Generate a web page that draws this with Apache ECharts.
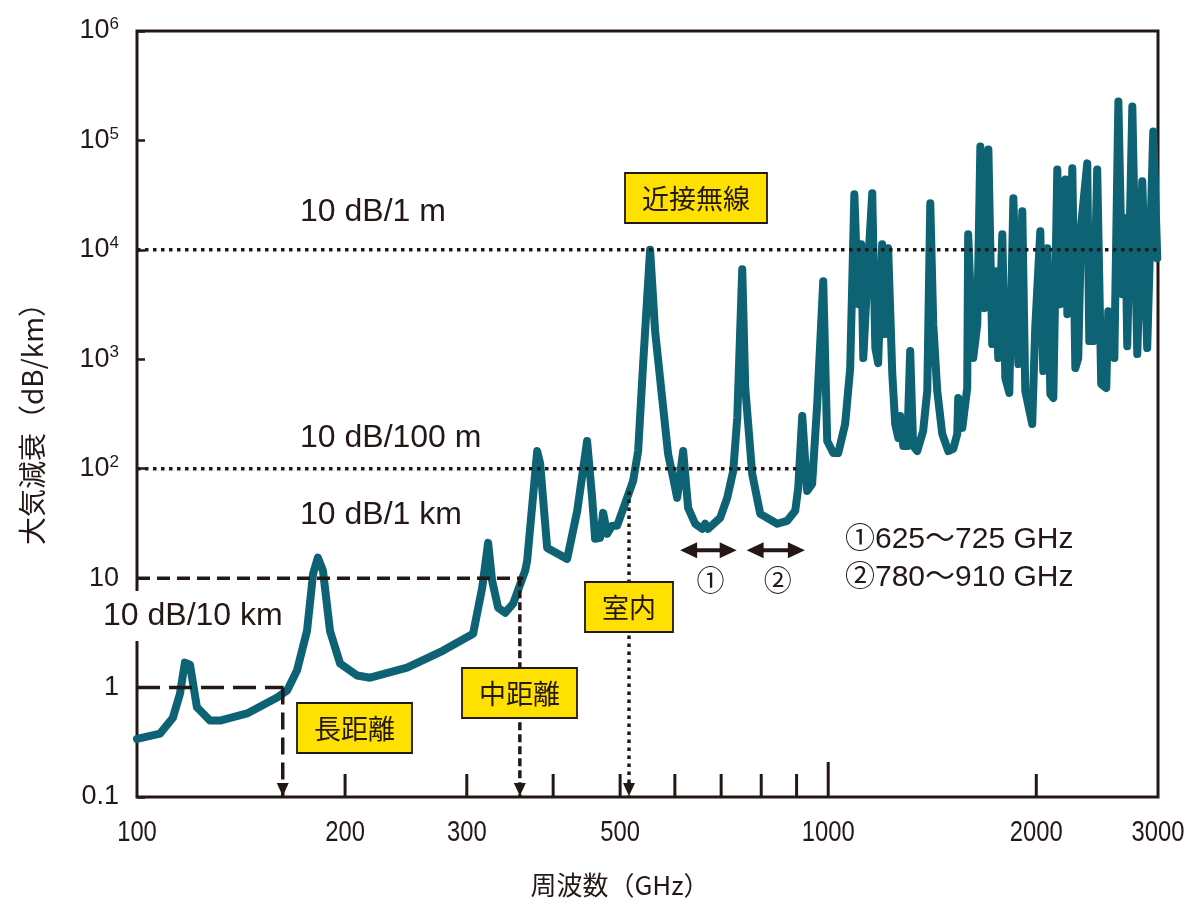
<!DOCTYPE html>
<html>
<head>
<meta charset="utf-8">
<script src="https://cdn.jsdelivr.net/npm/echarts@6/dist/echarts.min.js"></script>
<style>
html,body{margin:0;padding:0;background:#fff}
#chart{width:1195px;height:905px}
</style>
</head>
<body>
<div id="chart"></div>
<script>
// Atmospheric attenuation spectrum (dB/km) vs frequency (GHz)
const freqGHz = [100,108,112.7,115.4,117.3,119.3,122.1,127.5,131.9,144.3,
  159.5,164.9,170.4,176.2,179.8,182.7,185.8,190.2,196.7,208.2,
  217.4,245.9,277.3,306.4,315.8,322.1,326.4,333,340.9,350.1,
  364.4,366.8,379.3,383.1,392.1,419.1,433.4,447.9,455.5,460,
  467.7,472.5,478.8,486.8,495,511.8,522.1,530.9,539.8,552.5,
  561.8,575.1,586.7,596.6,604.6,616.8,627.1,641.9,657.1,663.7,
  670.3,697.9,714.3,728.8,738.6,751,758.6,776.3,797.3,843.8,
  872.4,896,905,917.1,932.3,947.9,964,983.6,996.7,1017,
  1034,1058,1076,1091,1105,1116,1124,1139,1158,1170,
  1181,1197,1209,1221,1238,1250,1263,1271,1284,1301,
  1314,1327,1345,1372,1391,1405,1419,1438,1462,1492,
  1517,1537,1542,1563,1589,1594,1621,1643,1660,1682,
  1705,1727,1745,1762,1786,1804,1828,1853,1884,1909,
  1928,1973,1993,2027,2047,2075,2096,2117,2145,2167,
  2203,2218,2255,2278,2300,2323,2370,2386,2418,2450,
  2483,2525,2542,2594,2629,2664,2690,2708,2754,2800,
  2847,2894,2953,2993];
const attenDbKm = [0.34,0.38,0.53,0.88,1.69,1.62,0.66,0.50,0.50,0.58,
  0.81,0.94,1.43,3.31,11.0,15.4,11.7,3.3,1.66,1.29,
  1.23,1.52,2.18,3.11,8.17,21.0,9.47,5.37,4.83,5.84,
  11.7,14.4,145,111,18.9,15.0,41.2,179,54.2,22.9,
  23.4,39.5,25.4,30.1,30.1,54.2,77.4,145,904,10000,
  1808,443,136,82.4,54.2,145,43.9,31.4,28.2,31.4,
  28.2,35.6,54.2,95.5,291,6650,546,89.7,38.7,31.4,
  33.4,41.2,66.8,303,62.7,72.7,390,5170,179,139,
  139,256,832,32150,3190,11250,1026,5510,32830,1265,
  923,11250,1698,10350,733,256,191,303,161,161,
  1188,161,145,221,513,26600,2094,513,208,145,
  152,208,443,236,546,13870,1026,2094,88100,2931,
  82800,1377,6380,1026,13870,674,492,29570,904,22500,
  513,256,1927,14790,780,10350,481,443,54300,3190,
  44060,2585,55600,832,1026,17130,61700,1466,1466,54300,
  594,546,2754,1026,227000,3936,19410,1319,204000,1115,
  42270,1265,120800,8380];

// axis ticks / labels
const xTickValues = [200,300,400,500,600,700,800,900,1000,2000];
const xMajorTick = 1000;
const xLabelValues = [100,200,300,500,1000,2000,3000];

// reference attenuation levels: [dB/km, end frequency GHz]
const levelShort = [1e4, 3000];      // 10 dB / 1 m
const levelIndoor = [100, 900];      // 10 dB / 100 m
const levelMid = [10, 362];          // 10 dB / 1 km
const levelLong = [1, 163];          // 10 dB / 10 km

// drop lines to the frequency axis: [GHz, starting level]
const markerDrop = {long: [162.5, 1], mid: [358, 10], indoor: [515, 62]};
const bandRanges = [[625, 725], [780, 910]];
const bandArrowLevel = 18;
const bandMarks = ['①', '②'];
const bandTexts = ['①625～725 GHz', '②780～910 GHz'];

const INK = '#231815';
const TEAL = '#0d6374';
const YELLOW = '#ffe100';
const NUM_FONT = '"Liberation Sans", Arial, sans-serif';
const JP_FONT = '"Noto Sans CJK JP", sans-serif';

const chart = echarts.init(document.getElementById('chart'), null, {renderer: 'canvas'});

function guide(points, type, width) {
  return {
    type: 'line', data: points, symbol: 'none', silent: true, z: 4,
    animation: false,
    lineStyle: {color: INK, width: width, type: type, cap: 'butt'}
  };
}

const curve = freqGHz.map((f, i) => [f, attenDbKm[i]]);

chart.setOption({
  animation: false,
  backgroundColor: '#fff',
  grid: {left: 137, right: 37, top: 31, bottom: 108, show: true,
         borderColor: INK, borderWidth: 3, backgroundColor: 'transparent'},
  xAxis: {
    type: 'log', logBase: 10, min: 100, max: 3000,
    axisLine: {show: false}, axisTick: {show: false},
    axisLabel: {show: false}, splitLine: {show: false}
  },
  yAxis: {
    type: 'log', logBase: 10, min: 0.1, max: 1e6,
    axisLine: {show: false},
    axisTick: {show: true, inside: true, length: 8, lineStyle: {color: INK, width: 2.5}},
    splitLine: {show: false},
    axisLabel: {
      margin: 18,
      formatter: function (v) {
        const e = Math.round(Math.log10(v));
        if (e === -1) return '{b|0.1}';
        if (e === 0) return '{b|1}';
        if (e === 1) return '{b|10}';
        return '{b|10}{s|' + e + '}';
      },
      rich: {
        b: {fontSize: 27, fontFamily: NUM_FONT, color: INK, lineHeight: 30},
        s: {fontSize: 17, fontFamily: NUM_FONT, color: INK, verticalAlign: 'top', lineHeight: 17}
      }
    }
  },
  series: [
    {
      type: 'line', data: curve, symbol: 'none', z: 2, animation: false,
      lineStyle: {color: TEAL, width: 8, join: 'round', cap: 'round'}
    },
    guide([[100, levelShort[0]], [levelShort[1], levelShort[0]]], [3.5, 4.5], 3.5),
    guide([[100, levelIndoor[0]], [levelIndoor[1], levelIndoor[0]]], [3.5, 4.5], 3.5),
    guide([[100, levelMid[0]], [levelMid[1], levelMid[0]]], [13, 7], 3.5),
    guide([[100, levelLong[0]], [levelLong[1], levelLong[0]]], [23, 9], 3.5),
    guide([[markerDrop.long[0], markerDrop.long[1]], [markerDrop.long[0], 0.1]], [17, 8], 3.5),
    guide([[markerDrop.mid[0], markerDrop.mid[1]], [markerDrop.mid[0], 0.1]], [8, 4], 3.5),
    guide([[markerDrop.indoor[0], markerDrop.indoor[1]], [markerDrop.indoor[0], 0.1]], [3.5, 4.5], 3.5),
    guide([[bandRanges[0][0], bandArrowLevel], [bandRanges[0][1], bandArrowLevel]], 'solid', 4),
    guide([[bandRanges[1][0], bandArrowLevel], [bandRanges[1][1], bandArrowLevel]], 'solid', 4)
  ]
});

// pixel helpers through the chart's own scales
const toPx = (x, y) => chart.convertToPixel({gridIndex: 0}, [x, y]);
const g = [];

// bottom ticks and labels (condensed digits)
xTickValues.forEach(v => {
  const p = toPx(v, 0.1);
  const len = v === xMajorTick ? 35 : 23;
  g.push({type: 'line', z: 50, shape: {x1: p[0], y1: p[1], x2: p[0], y2: p[1] - len},
          style: {stroke: INK, lineWidth: 3}});
});
xLabelValues.forEach(v => {
  const p = toPx(v, 0.1);
  g.push({type: 'text', z: 50, x: p[0], y: p[1] + 36, scaleX: 0.82,
          style: {text: String(v), font: '29px ' + NUM_FONT, fill: INK,
                  align: 'center', verticalAlign: 'middle'}});
});

// arrowheads at the bottom of each drop line
[markerDrop.long[0], markerDrop.mid[0], markerDrop.indoor[0]].forEach(f => {
  const p = toPx(f, 0.1);
  g.push({type: 'polygon', z: 60,
          shape: {points: [[p[0] - 6, p[1] - 14], [p[0] + 6, p[1] - 14], [p[0], p[1] - 1]]},
          style: {fill: INK}});
});

// double-headed arrows for the two windows
bandRanges.forEach((r, i) => {
  const a = toPx(r[0], bandArrowLevel), b = toPx(r[1], bandArrowLevel);
  g.push({type: 'polygon', z: 60,
          shape: {points: [[a[0] - 7, a[1]], [a[0] + 10, a[1] - 8], [a[0] + 10, a[1] + 8]]},
          style: {fill: INK}});
  g.push({type: 'polygon', z: 60,
          shape: {points: [[b[0] + 5, b[1]], [b[0] - 12, b[1] - 8], [b[0] - 12, b[1] + 8]]},
          style: {fill: INK}});
  const mid = toPx(Math.sqrt(r[0] * r[1]), bandArrowLevel);
  g.push({type: 'text', z: 60, x: mid[0] + 1, y: mid[1] + 30,
          style: {text: bandMarks[i], font: '28px ' + JP_FONT, fill: INK,
                  align: 'center', verticalAlign: 'middle'}});
});

// level captions
function caption(text, x, y, extra) {
  g.push(Object.assign({type: 'text', z: 70, x: x, y: y,
    style: Object.assign({text: text, font: '32px ' + NUM_FONT, fill: INK,
                          align: 'left', verticalAlign: 'middle'}, extra || {})}));
}
caption('10 dB/1 m', 300, 212);
caption('10 dB/100 m', 300, 438);
caption('10 dB/1 km', 300, 515);
caption('10 dB/10 km', 101, 616, {backgroundColor: '#fff', padding: [9, 4, 9, 2]});

// band legend text
bandTexts.forEach((t, i) => {
  g.push({type: 'text', z: 70, x: 845, y: 540 + i * 38,
          style: {text: t, font: '30px ' + NUM_FONT + ', "Noto Sans CJK JP"', fill: INK,
                  align: 'left', verticalAlign: 'middle'}});
});

// yellow use-case tags
function tag(text, x, y, w, h) {
  g.push({type: 'rect', z: 80, shape: {x: x, y: y, width: w, height: h},
          style: {fill: YELLOW, stroke: INK, lineWidth: 1.8}});
  g.push({type: 'text', z: 81, x: x + w / 2, y: y + h / 2 + 1,
          style: {text: text, font: '27px ' + JP_FONT, fill: INK,
                  align: 'center', verticalAlign: 'middle'}});
}
tag('近接無線', 625, 173, 142, 50);
tag('室内', 585, 582, 88, 50);
tag('中距離', 462, 668, 115, 50);
tag('長距離', 297, 703, 115, 50);

// axis titles
g.push({type: 'text', z: 70, x: 620, y: 885,
        style: {text: '周波数（GHz）', font: '26px ' + JP_FONT, fill: INK,
                align: 'center', verticalAlign: 'middle'}});
g.push({type: 'text', z: 70, x: 32, y: 417, rotation: Math.PI / 2,
        style: {text: '大気減衰（dB/km）', font: '28px ' + JP_FONT, fill: INK,
                align: 'center', verticalAlign: 'middle'}});

chart.setOption({graphic: {elements: g}});
</script>
</body>
</html>
